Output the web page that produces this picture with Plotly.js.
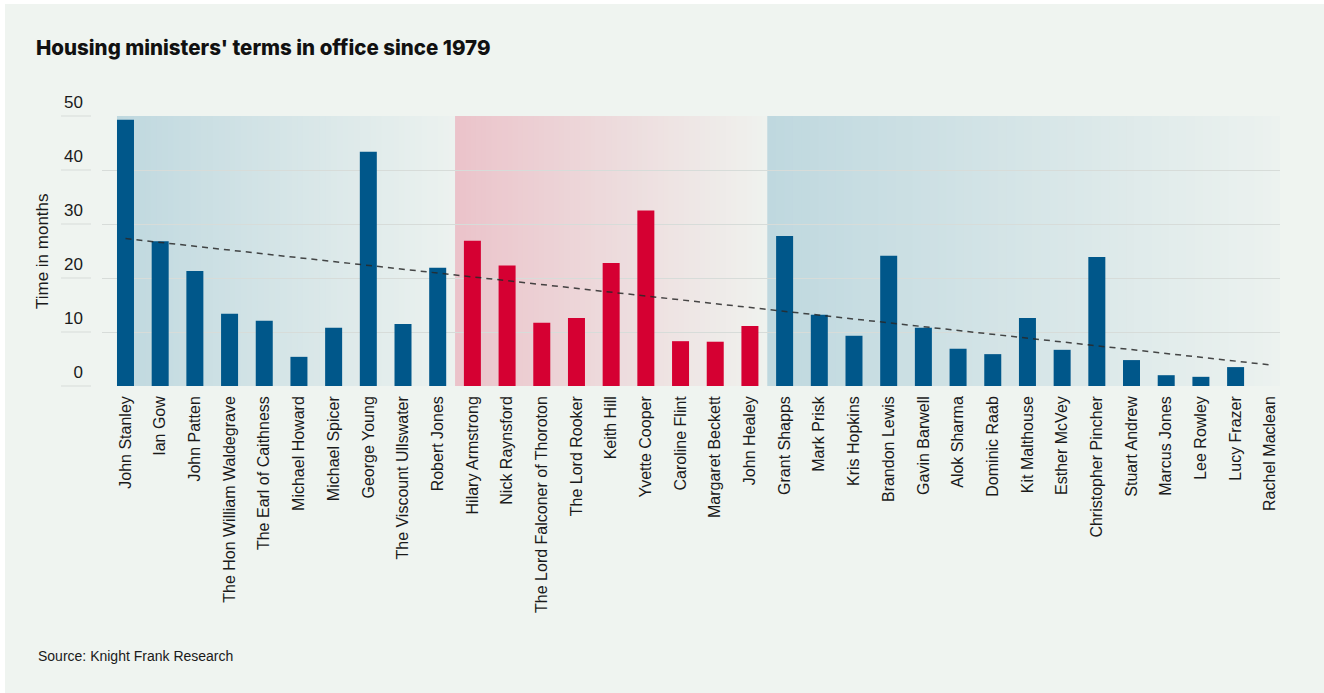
<!DOCTYPE html>
<html>
<head>
<meta charset="utf-8">
<script src="https://cdn.plot.ly/plotly-3.0.1.min.js"></script>
<style>
  html, body { margin: 0; padding: 0; background: #ffffff; }
  #chart { position: absolute; left: 5px; top: 4px; width: 1319px; height: 689px; }
</style>
</head>
<body>
<div id="chart"></div>
<script>
// ---- data ----
const ministers = [
  "John Stanley", "Ian Gow", "John Patten", "The Hon William Waldegrave", "The Earl of Caithness",
  "Michael Howard", "Michael Spicer", "George Young", "The Viscount Ullswater", "Robert Jones",
  "Hilary Armstrong", "Nick Raynsford", "The Lord Falconer of Thoroton", "The Lord Rooker", "Keith Hill",
  "Yvette Cooper", "Caroline Flint", "Margaret Beckett", "John Healey",
  "Grant Shapps", "Mark Prisk", "Kris Hopkins", "Brandon Lewis", "Gavin Barwell", "Alok Sharma",
  "Dominic Raab", "Kit Malthouse", "Esther McVey", "Christopher Pincher", "Stuart Andrew",
  "Marcus Jones", "Lee Rowley", "Lucy Frazer", "Rachel Maclean"
];
const months = [
  49.3, 26.8, 21.3, 13.4, 12.1,
  5.4, 10.8, 43.4, 11.5, 21.9,
  26.9, 22.3, 11.7, 12.6, 22.8,
  32.5, 8.3, 8.2, 11.1,
  27.8, 13.2, 9.3, 24.1, 10.8, 6.9,
  5.9, 12.6, 6.7, 23.9, 4.8,
  2.0, 1.7, 3.5, 0
];
const party = [
  "Con","Con","Con","Con","Con","Con","Con","Con","Con","Con",
  "Lab","Lab","Lab","Lab","Lab","Lab","Lab","Lab","Lab",
  "Con","Con","Con","Con","Con","Con","Con","Con","Con","Con","Con","Con","Con","Con","Con"
];
const trendX = ["John Stanley", "Rachel Maclean"];
const trendY = [27.3, 3.9];
const yTicks = [0, 10, 20, 30, 40, 50];

// ---- styling ----
const BLUE = "#00578a";
const RED = "#d50032";
const BG = "#eff4f0";
const GRID = "#d7dcd9";

const barColors = party.map(p => p === "Lab" ? RED : BLUE);

// gradient backgrounds (eras)
const eras = [
  {x0: -0.245, x1: 9.5,  from: [191, 216, 223], to: [236, 242, 239]},
  {x0: 9.5,    x1: 18.5, from: [235, 195, 202], to: [239, 242, 238]},
  {x0: 18.5,   x1: 33.28, from: [191, 216, 223], to: [236, 242, 239]}
];
const shapes = [];
const N = 60;
eras.forEach(e => {
  const w = (e.x1 - e.x0) / N;
  for (let i = 0; i < N; i++) {
    const t = (i + 0.5) / N;
    const c = e.from.map((v, k) => Math.round(v + (e.to[k] - v) * t));
    shapes.push({
      type: "rect", xref: "x", yref: "y", layer: "below",
      x0: e.x0 + i * w, x1: Math.min(e.x1, e.x0 + (i + 1) * w + w * 0.3),
      y0: 0, y1: 50,
      fillcolor: `rgb(${c[0]},${c[1]},${c[2]})`, line: {width: 0}
    });
  }
});
// short rules under y tick labels
yTicks.forEach(v => {
  shapes.push({
    type: "line", xref: "paper", yref: "paper",
    x0: -0.0348, x1: -0.0093, y0: v / 50, y1: v / 50,
    line: {color: GRID, width: 1}
  });
});

const traces = [
  {
    type: "bar", x: ministers, y: months,
    marker: {color: barColors},
    width: 0.49, hoverinfo: "x+y", showlegend: false
  },
  {
    type: "scatter", mode: "lines", x: trendX, y: trendY,
    line: {color: "rgba(40,40,40,0.85)", width: 1.5, dash: "6px,5px"},
    hoverinfo: "skip", showlegend: false
  }
];

const FONT = "Liberation Sans, Arial, sans-serif";

const layout = {
  width: 1319, height: 689,
  paper_bgcolor: BG, plot_bgcolor: BG,
  margin: {l: 97, r: 44, t: 112, b: 307},
  font: {family: FONT, color: "#1a1a1a"},
  title: {
    text: "Housing ministers' terms in office since 1979",
    xref: "container", yref: "container",
    x: 31 / 1319, xanchor: "left",
    y: 1 - 44 / 689, yanchor: "middle",
    font: {family: "Inter, Liberation Sans, sans-serif", size: 20.5, weight: 800, color: "#111111"}
  },
  xaxis: {
    type: "category",
    range: [-0.677, 33.28],
    tickangle: -90,
    tickfont: {size: 16, color: "#1a1a1a"},
    showgrid: false, zeroline: false, showline: false,
    ticks: "", ticklabelstandoff: 6,
    fixedrange: true
  },
  yaxis: {
    range: [0, 50],
    tickvals: yTicks,
    ticktext: yTicks.map(String),
    tickfont: {size: 17, color: "#1a1a1a"},
    showgrid: true, gridcolor: GRID, gridwidth: 1,
    zeroline: false, showline: false, ticks: "",
    ticklabelshift: -14, ticklabelstandoff: 18,
    fixedrange: true
  },
  shapes: shapes,
  annotations: [
    {
      text: "Time in months", textangle: -90,
      xref: "paper", yref: "paper",
      x: -0.0509, y: 0.5, xanchor: "center", yanchor: "middle",
      showarrow: false, font: {size: 17, color: "#1a1a1a"}
    },
    {
      text: "Source: Knight Frank Research",
      xref: "paper", yref: "paper",
      x: -0.056, y: -1.0, xanchor: "left", yanchor: "middle",
      showarrow: false, font: {size: 14, color: "#1a1a1a"}
    }
  ],
  bargap: 0.5
};

Plotly.newPlot("chart", traces, layout, {displayModeBar: false, staticPlot: true});
</script>
</body>
</html>
